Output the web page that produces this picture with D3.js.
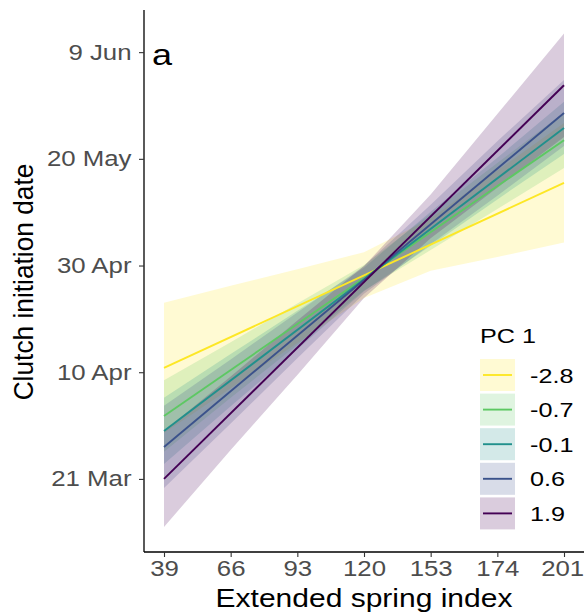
<!DOCTYPE html>
<html>
<head>
<meta charset="utf-8">
<script src="https://cdn.jsdelivr.net/npm/d3@7"></script>
<style>
  body { margin: 0; background: #fff; }
  svg { display: block; font-family: "Liberation Sans", Arial, sans-serif; }
</style>
</head>
<body>
<div id="chart"></div>
<script>
// x ticks (extended spring index, evenly spaced in the figure)
const esiLabels = ["39", "66", "93", "120", "153", "174", "201"];

// PC 1 levels and their viridis colours
const pcLevels = ["-2.8", "-0.7", "-0.1", "0.6", "1.9"];
const pcColors = ["#FDE725", "#5DC863", "#21908C", "#3B528B", "#440154"];

// fitted clutch date (day of year) at ESI 39 and ESI 201
const fitStart = [100.8, 91.8, 89.0, 86.0, 80.0];
const fitEnd = [135.5, 143.5, 145.8, 148.6, 153.8];

// confidence band (day of year) at each x tick, one row per PC 1 level
const ciLower = [
  [88.6, 97.0, 105.5, 113.9, 119.0, 121.6, 124.3],
  [85.1, 95.2, 105.1, 115.3, 122.9, 130.6, 138.3],
  [82.8, 93.6, 104.3, 115.2, 123.7, 132.4, 140.9],
  [78.3, 90.4, 102.6, 114.7, 124.0, 133.1, 142.4],
  [71.0, 85.4, 99.5, 113.9, 125.1, 134.6, 144.1]
];
const ciUpper = [
  [113.0, 116.2, 119.3, 122.5, 128.8, 137.8, 146.7],
  [98.5, 105.6, 112.9, 120.1, 129.7, 139.2, 148.7],
  [95.2, 103.4, 111.5, 119.6, 130.1, 140.2, 150.7],
  [93.7, 102.4, 111.2, 119.9, 131.4, 143.3, 154.8],
  [89.0, 99.2, 109.7, 119.9, 133.3, 148.4, 163.5]
];

// y ticks: day of year and label
const dateTicks = [80, 100, 120, 140, 160];
const dateLabels = ["21 Mar", "10 Apr", "30 Apr", "20 May", "9 Jun"];

const width = 584, height = 616;
const SX = 1.2; // the figure is a bit stretched horizontally
const panel = { left: 144, right: 584, top: 10, bottom: 552 };

const svg = d3.select("#chart").append("svg")
  .attr("width", width)
  .attr("height", height);

const x = d3.scalePoint()
  .domain(esiLabels)
  .range([panel.left, panel.right])
  .padding(0.3);

const y = d3.scaleLinear()
  .domain([66.3, 167.9])
  .range([panel.bottom, panel.top]);

function stretchedText(g, px, py, txt) {
  return g.append("text")
    .attr("transform", `translate(${px},${py}) scale(${SX},1)`)
    .text(txt);
}

// ribbons
const area = d3.area()
  .x(d => x(d.esi))
  .y0(d => y(d.lo))
  .y1(d => y(d.hi));

pcLevels.forEach((lvl, k) => {
  const band = esiLabels.map((e, i) => ({ esi: e, lo: ciLower[k][i], hi: ciUpper[k][i] }));
  svg.append("path")
    .datum(band)
    .attr("d", area)
    .attr("fill", pcColors[k])
    .attr("fill-opacity", 0.2)
    .attr("stroke", "none");
});

// fitted lines
const line = d3.line().x(d => x(d.esi)).y(d => y(d.v));
pcLevels.forEach((lvl, k) => {
  svg.append("path")
    .datum([{ esi: esiLabels[0], v: fitStart[k] }, { esi: esiLabels[esiLabels.length - 1], v: fitEnd[k] }])
    .attr("d", line)
    .attr("fill", "none")
    .attr("stroke", pcColors[k])
    .attr("stroke-width", 1.9);
});

// axes
const xAxis = svg.append("g")
  .attr("transform", `translate(0,${panel.bottom})`)
  .call(d3.axisBottom(x).tickSize(5).tickSizeOuter(0));
xAxis.select(".domain").attr("stroke", "#000").attr("stroke-width", 1.3)
  .attr("d", `M${panel.left},0H${panel.right}`);
xAxis.selectAll(".tick line").attr("stroke", "#333").attr("stroke-width", 1.1);
xAxis.selectAll(".tick text")
  .attr("fill", "#4d4d4d")
  .attr("font-size", 21.5)
  .attr("y", 9)
  .attr("x", (d, i) => i === esiLabels.length - 1 ? -1.5 : 0)
  .attr("transform", `scale(${SX},1)`);

const yAxis = svg.append("g")
  .attr("transform", `translate(${panel.left},0)`)
  .call(d3.axisLeft(y).tickValues(dateTicks)
    .tickFormat((d, i) => dateLabels[i]).tickSize(5).tickSizeOuter(0));
yAxis.select(".domain").attr("stroke", "#000").attr("stroke-width", 1.3)
  .attr("d", `M0,${panel.top}V${panel.bottom}`);
yAxis.selectAll(".tick line").attr("stroke", "#333").attr("stroke-width", 1.1);
yAxis.selectAll(".tick text")
  .attr("fill", "#4d4d4d")
  .attr("font-size", 21.5)
  .attr("x", -12.5 / SX)
  .attr("transform", `scale(${SX},1)`);

// axis titles
stretchedText(svg, (panel.left + panel.right) / 2, 607, "Extended spring index")
  .attr("text-anchor", "middle")
  .attr("font-size", 25)
  .attr("fill", "#000");

svg.append("text")
  .attr("transform", `translate(33,${(panel.top + panel.bottom) / 2 + 1}) scale(1.08,1) rotate(-90)`)
  .attr("text-anchor", "middle")
  .attr("font-size", 26.3)
  .attr("fill", "#000")
  .text("Clutch initiation date");

// panel tag
stretchedText(svg, 152, 65, "a")
  .attr("font-size", 30)
  .attr("fill", "#000");

// legend
const legend = svg.append("g");
stretchedText(legend, 480, 343, "PC 1").attr("font-size", 21).attr("fill", "#000");
const keyW = 35, keyH = 32, keyStep = 34.6, keyTop = 359, keyLeft = 480;
pcLevels.forEach((lvl, k) => {
  const ky = keyTop + k * keyStep;
  legend.append("rect")
    .attr("x", keyLeft).attr("y", ky)
    .attr("width", keyW).attr("height", keyH)
    .attr("fill", pcColors[k]).attr("fill-opacity", 0.2);
  legend.append("line")
    .attr("x1", keyLeft + 3).attr("x2", keyLeft + keyW - 3)
    .attr("y1", ky + keyH / 2).attr("y2", ky + keyH / 2)
    .attr("stroke", pcColors[k]).attr("stroke-width", 1.9);
  stretchedText(legend, 530, ky + keyH / 2 + 7.5, lvl)
    .attr("font-size", 21).attr("fill", "#000");
});
</script>
</body>
</html>
